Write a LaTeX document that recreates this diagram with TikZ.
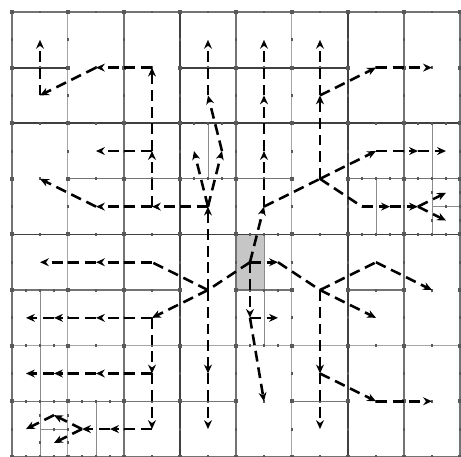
\documentclass[tikz,border=0pt]{standalone}
\usetikzlibrary{arrows.meta}

\tikzset{
  heavy/.style={draw=black!75,line width=0.9pt},
  medium/.style={draw=black!55,line width=0.6pt},
  light/.style={draw=black!35,line width=0.5pt},
  fine/.style={draw=black!45,line width=0.45pt},
  tick/.style={fill=black!65},
  flow/.style={line width=1.3pt,dash pattern=on 5.5pt off 3pt,-{Stealth[length=4.5pt,width=4pt]}},
  flowline/.style={line width=1.3pt,dash pattern=on 5.5pt off 3pt},
}

\begin{document}
\begin{tikzpicture}[x=1cm,y=-0.993cm]
    \useasboundingbox (-0.214,-0.216) rectangle (8.018,8.0);

    % Start cell
    \fill[gray!45] (4,4) rectangle (4.5,5);

    % Grid
    \foreach \u in {0,2,4,7,8} \draw[medium] (\u,0) -- (\u,8);
    \foreach \u in {1,5} \draw[light] (\u,0) -- (\u,8);
    \foreach \u in {3,6} \draw[heavy] (\u,0) -- (\u,8);
    \foreach \v in {0,8} \draw[medium] (0,\v) -- (8,\v);
    \foreach \v in {2,4} \draw[heavy] (0,\v) -- (8,\v);
    \draw[light] (0,6) -- (8,6);
    \draw[heavy] (0,1) -- (1,1) (3,1) -- (6,1);
    \draw[medium] (1,3) -- (5,3) (6,3) -- (8,3);
    \draw[medium] (0,5) -- (3,5) (4,5) -- (5,5) (6,5) -- (7,5);
    \draw[medium] (0,7) -- (4,7) (5,7) -- (6,7);

    % Refined cells
    \draw[fine] (3.5,2) -- (3.5,3) (7.5,2) -- (7.5,4) (6.5,3) -- (6.5,4)
        (7.5,3.5) -- (8,3.5) (4.5,4) -- (4.5,6) (0.5,5) -- (0.5,8)
        (1.5,7) -- (1.5,8) (0.5,7.5) -- (1,7.5);

    % Grid points
    \foreach \i in {0,...,8}
      \foreach \j in {0,...,8}
        \fill[tick] (\i,\j) +(-1pt,-1pt) rectangle +(1pt,1pt);
    \foreach \i in {0,...,8}
      \foreach \j in {0.5,1.5,...,7.5} {
        \fill[tick] (\i,\j) +(-0.75pt,-0.75pt) rectangle +(0.75pt,0.75pt);
        \fill[tick] (\j,\i) +(-0.75pt,-0.75pt) rectangle +(0.75pt,0.75pt);
      }
    \foreach \p in {(3.25,2),(3.75,2),(3.25,3),(3.75,3),
        (6.25,3),(6.75,3),(7.25,3),(7.75,3),(6.25,4),(6.75,4),(7.25,4),(7.75,4),
        (7.25,2),(7.75,2),(7.5,3.25),(7.5,3.75),(8,3.25),(8,3.75),(7.75,3.5),
        (4.25,4),(4.75,4),(4.25,5),(4.75,5),(4.25,6),(4.75,6),
        (0.25,5),(0.75,5),(0.25,6),(0.75,6),(0.25,7),(0.75,7),(1.25,7),(1.75,7),
        (0.25,8),(0.75,8),(1.25,8),(1.75,8),(0.5,7.25),(0.5,7.75),(1,7.25),
        (1,7.75),(0.75,7.5)}
      \fill[tick] \p +(-0.75pt,-0.75pt) rectangle +(0.75pt,0.75pt);

    % Path points
    \coordinate (g) at (4.25,4.5);
    \coordinate (c) at (3.5,5);
    \coordinate (h) at (5.5,5);
    \coordinate (k) at (5.5,3);
    % upper left
    \coordinate (a1) at (0.5,0.5);
    \coordinate (a2) at (0.5,1.5);
    \coordinate (a3) at (1.5,1);
    \coordinate (a4) at (2.5,1);
    \coordinate (a5) at (2.5,2.5);
    \coordinate (a6) at (1.5,2.5);
    \coordinate (a7) at (2.5,3.5);
    \coordinate (a8) at (1.5,3.5);
    \coordinate (a9) at (0.5,3);
    \coordinate (y0) at (3.5,3.5);
    \coordinate (y1) at (3.25,2.5);
    \coordinate (y2) at (3.75,2.5);
    \coordinate (y3) at (3.5,1.5);
    \coordinate (y4) at (3.5,0.5);
    % lower left
    \coordinate (l1) at (2.5,4.5);
    \coordinate (l2) at (1.5,4.5);
    \coordinate (l3) at (0.5,4.5);
    \coordinate (m1) at (2.5,5.5);
    \coordinate (m2) at (1.5,5.5);
    \coordinate (m3) at (0.75,5.5);
    \coordinate (m4) at (0.25,5.5);
    \coordinate (n1) at (2.5,6.5);
    \coordinate (n2) at (1.5,6.5);
    \coordinate (n3) at (0.75,6.5);
    \coordinate (n4) at (0.25,6.5);
    \coordinate (b1) at (2.5,7.5);
    \coordinate (b2) at (1.75,7.5);
    \coordinate (b3) at (1.25,7.5);
    \coordinate (b4) at (0.75,7.25);
    \coordinate (b5) at (0.25,7.5);
    \coordinate (b6) at (0.75,7.75);
    \coordinate (d1) at (3.5,6.5);
    \coordinate (d2) at (3.5,7.5);
    % upper right
    \coordinate (u1) at (4.5,3.5);
    \coordinate (u2) at (4.5,2.5);
    \coordinate (u3) at (4.5,1.5);
    \coordinate (u4) at (4.5,0.5);
    \coordinate (k1) at (5.5,1.5);
    \coordinate (k2) at (5.5,0.5);
    \coordinate (k3) at (6.5,1);
    \coordinate (k4) at (7.5,1);
    \coordinate (e1) at (6.5,2.5);
    \coordinate (e2) at (7.25,2.5);
    \coordinate (e3) at (7.75,2.5);
    \coordinate (f1) at (6.25,3.5);
    \coordinate (f2) at (6.75,3.5);
    \coordinate (f3) at (7.25,3.5);
    \coordinate (f4) at (7.75,3.25);
    \coordinate (f5) at (7.75,3.75);
    % lower right
    \coordinate (r1) at (4.75,4.5);
    \coordinate (h1) at (6.5,5.5);
    \coordinate (h2) at (6.5,4.5);
    \coordinate (h3) at (7.5,5);
    \coordinate (s1) at (5.5,6.5);
    \coordinate (s2) at (5.5,7.5);
    \coordinate (s3) at (6.5,7);
    \coordinate (s4) at (7.5,7);
    \coordinate (w1) at (4.25,5.5);
    \coordinate (w2) at (4.75,5.5);
    \coordinate (w3) at (4.5,7);

    % Flow to the upper left
    \draw[flow] (c) -- (y0);
    \draw[flow] (y0) -- (y1);
    \draw[flow] (y0) -- (y2);
    \draw[flow] (y2) -- (y3);
    \draw[flow] (y3) -- (y4);
    \draw[flow] (y0) -- (a7);
    \draw[flow] (a7) -- (a8);
    \draw[flow] (a8) -- (a9);
    \draw[flow] (a7) -- (a5);
    \draw[flow] (a5) -- (a6);
    \draw[flow] (a5) -- (a4);
    \draw[flow] (a4) -- (a3);
    \draw[flow] (a3) -- (a2);
    \draw[flow] (a2) -- (a1);

    % Flow to the lower left
    \draw[flowline] (g) -- (c);
    \draw[flowline] (c) -- (l1);
    \draw[flow] (l1) -- (l2);
    \draw[flow] (l2) -- (l3);
    \draw[flow] (c) -- (m1);
    \draw[flow] (m1) -- (m2);
    \draw[flow] (m2) -- (m3);
    \draw[flow] (m3) -- (m4);
    \draw[flow] (m1) -- (n1);
    \draw[flow] (n1) -- (n2);
    \draw[flow] (n2) -- (n3);
    \draw[flow] (n3) -- (n4);
    \draw[flow] (n1) -- (b1);
    \draw[flow] (b1) -- (b2);
    \draw[flow] (b2) -- (b3);
    \draw[flow] (b3) -- (b4);
    \draw[flow] (b4) -- (b5);
    \draw[flow] (b3) -- (b6);
    \draw[flow] (c) -- (d1);
    \draw[flow] (d1) -- (d2);

    % Flow to the upper right
    \draw[flow] (g) -- (u1);
    \draw[flow] (u1) -- (u2);
    \draw[flow] (u2) -- (u3);
    \draw[flow] (u3) -- (u4);
    \draw[flowline] (u1) -- (k);
    \draw[flow] (k) -- (k1);
    \draw[flow] (k1) -- (k2);
    \draw[flow] (k1) -- (k3);
    \draw[flow] (k3) -- (k4);
    \draw[flow] (k) -- (e1);
    \draw[flow] (e1) -- (e2);
    \draw[flow] (e2) -- (e3);
    \draw[flowline] (k) -- (f1);
    \draw[flow] (f1) -- (f2);
    \draw[flow] (f2) -- (f3);
    \draw[flow] (f3) -- (f4);
    \draw[flow] (f3) -- (f5);

    % Flow to the lower right
    \draw[flow] (g) -- (r1);
    \draw[flowline] (r1) -- (h);
    \draw[flow] (h) -- (h1);
    \draw[flowline] (h) -- (h2);
    \draw[flow] (h2) -- (h3);
    \draw[flow] (h) -- (s1);
    \draw[flow] (s1) -- (s2);
    \draw[flow] (s1) -- (s3);
    \draw[flow] (s3) -- (s4);
    \draw[flow] (g) -- (w1);
    \draw[flow] (w1) -- (w2);
    \draw[flow] (w1) -- (w3);
\end{tikzpicture}
\end{document}
